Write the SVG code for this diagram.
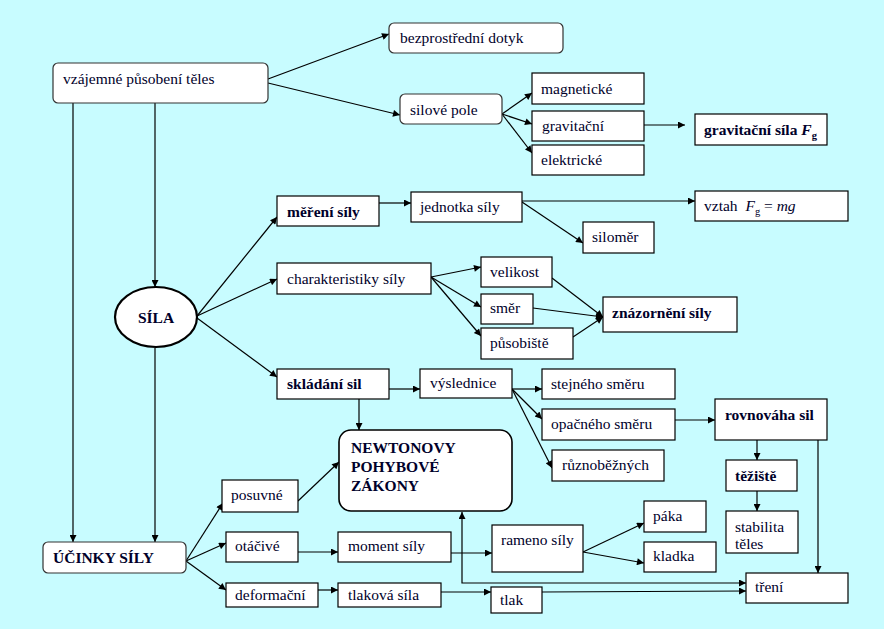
<svg xmlns="http://www.w3.org/2000/svg" width="884" height="629" viewBox="0 0 884 629">
<style>
.bg{fill:#C8FCFF}
.n{fill:#fff;stroke:#000;stroke-width:1.2}
.nr{fill:#fff;stroke:#333;stroke-width:1.2}
.t{font-family:"Liberation Serif","Times New Roman",serif;font-size:15.5px;fill:#00002a}
.b{font-weight:bold}
.i{font-style:italic}
.c path{fill:none;stroke:#000;stroke-width:1.2}
</style>
<defs>
<marker id="a" viewBox="0 0 10 10" refX="10" refY="5" markerWidth="9" markerHeight="7" orient="auto-start-reverse" markerUnits="userSpaceOnUse"><path d="M0,0 L10,5 L0,10 z" fill="#000"/></marker>
</defs>
<rect class="bg" x="0" y="0" width="884" height="629"/>

<g class="c">
<path d="M268,79 L389,34" marker-end="url(#a)"/>
<path d="M268,83 L400,115" marker-end="url(#a)"/>
<path d="M502,114 L532,93" marker-end="url(#a)"/>
<path d="M502,114 L532,124" marker-end="url(#a)"/>
<path d="M502,114 L532,153" marker-end="url(#a)"/>
<path d="M644,125 L685,125" marker-end="url(#a)"/>
<path d="M155,103 L155,287" marker-end="url(#a)"/>
<path d="M73,103 L73,542" marker-end="url(#a)"/>
<path d="M155,348 L155,542" marker-end="url(#a)"/>
<path d="M197,316 L277,217" marker-end="url(#a)"/>
<path d="M197,316 L277,279" marker-end="url(#a)"/>
<path d="M197,318 L277,377" marker-end="url(#a)"/>
<path d="M379,203 L411,203" marker-end="url(#a)"/>
<path d="M522,201 L695,201" marker-end="url(#a)"/>
<path d="M522,202 L583,243" marker-end="url(#a)"/>
<path d="M431,277 L481,267" marker-end="url(#a)"/>
<path d="M431,277 L481,307" marker-end="url(#a)"/>
<path d="M431,277 L481,336" marker-end="url(#a)"/>
<path d="M552,278 L603,317" marker-end="url(#a)"/>
<path d="M533,308 L603,317" marker-end="url(#a)"/>
<path d="M573,337 L603,317" marker-end="url(#a)"/>
<path d="M389,389 L420,389" marker-end="url(#a)"/>
<path d="M512,389 L542,389" marker-end="url(#a)"/>
<path d="M512,389 L542,419" marker-end="url(#a)"/>
<path d="M512,389 L552,468" marker-end="url(#a)"/>
<path d="M359,399 L359,430" marker-end="url(#a)"/>
<path d="M675,420 L715,420" marker-end="url(#a)"/>
<path d="M757,440 L757,460" marker-end="url(#a)"/>
<path d="M757,491 L757,511" marker-end="url(#a)"/>
<path d="M818,440 L818,573" marker-end="url(#a)"/>
<path d="M186,561 L223,503" marker-end="url(#a)"/>
<path d="M186,561 L226,543" marker-end="url(#a)"/>
<path d="M186,561 L226,590" marker-end="url(#a)"/>
<path d="M298,501 L339,462" marker-end="url(#a)"/>
<path d="M298,552 L338,552" marker-end="url(#a)"/>
<path d="M318,590 L338,590" marker-end="url(#a)"/>
<path d="M451,553 L492,553" marker-end="url(#a)"/>
<path d="M583,552 L644,523" marker-end="url(#a)"/>
<path d="M583,552 L644,563" marker-end="url(#a)"/>
<path d="M441,592 L491,592" marker-end="url(#a)"/>
<path d="M542,592 L746,591" marker-end="url(#a)"/>
<path d="M462,512 L462,583 L746,583" marker-start="url(#a)" marker-end="url(#a)"/>
</g>

<g id="vzajemne"><rect class="nr" x="53" y="63" width="215" height="40" rx="5"/><text class="t" x="63" y="84">vzájemné působení těles</text></g>
<g id="bezprostredni"><rect class="nr" x="389" y="23" width="174" height="30" rx="5"/><text class="t" x="400" y="43">bezprostřední dotyk</text></g>
<g id="silove-pole"><rect class="nr" x="400" y="94" width="102" height="30" rx="5"/><text class="t" x="410" y="115">silové pole</text></g>
<g id="magneticke"><rect class="n" x="532" y="73" width="112" height="31"/><text class="t" x="541" y="94">magnetické</text></g>
<g id="gravitacni"><rect class="n" x="532" y="111" width="112" height="30"/><text class="t" x="542" y="131">gravitační</text></g>
<g id="elektricke"><rect class="n" x="532" y="145" width="112" height="30"/><text class="t" x="541" y="165">elektrické</text></g>
<g id="gravitacni-sila"><rect class="n" x="695" y="114" width="132" height="31"/><text class="t b" x="704" y="135">gravitační síla <tspan class="i">F</tspan><tspan font-size="10.5px" dy="4">g</tspan></text></g>

<g id="sila"><ellipse cx="156" cy="317" rx="41" ry="30" fill="#fff" stroke="#000" stroke-width="2.2"/><text class="t b" x="156" y="323" text-anchor="middle" font-size="18.5px">SÍLA</text></g>

<g id="mereni"><rect class="n" x="277" y="196" width="102" height="30"/><text class="t b" x="287" y="217">měření síly</text></g>
<g id="jednotka"><rect class="n" x="411" y="192" width="111" height="30"/><text class="t" x="420" y="212">jednotka síly</text></g>
<g id="vztah"><rect class="n" x="695" y="191" width="153" height="30"/><text class="t" x="704" y="211">vztah <tspan class="i" dx="4">F</tspan><tspan font-size="10.5px" dy="4">g</tspan><tspan dy="-4"> = </tspan><tspan class="i">mg</tspan></text></g>
<g id="silomer"><rect class="n" x="583" y="222" width="71" height="31"/><text class="t" x="592" y="242">siloměr</text></g>

<g id="charakteristiky"><rect class="n" x="277" y="263" width="154" height="31"/><text class="t" x="287" y="284">charakteristiky síly</text></g>
<g id="velikost"><rect class="n" x="481" y="257" width="71" height="30"/><text class="t" x="490" y="277">velikost</text></g>
<g id="smer"><rect class="n" x="481" y="294" width="52" height="30"/><text class="t" x="490" y="313">směr</text></g>
<g id="pusobiste"><rect class="n" x="481" y="328" width="92" height="31"/><text class="t" x="490" y="348">působiště</text></g>
<g id="znazorneni"><rect class="n" x="603" y="297" width="134" height="35"/><text class="t b" x="612" y="318">znázornění síly</text></g>

<g id="skladani"><rect class="n" x="277" y="369" width="112" height="30"/><text class="t b" x="287" y="389">skládání sil</text></g>
<g id="vyslednice"><rect class="n" x="420" y="369" width="92" height="29"/><text class="t" x="430" y="388">výslednice</text></g>
<g id="stejneho"><rect class="n" x="542" y="369" width="133" height="30"/><text class="t" x="551" y="389">stejného směru</text></g>
<g id="opacneho"><rect class="n" x="542" y="409" width="133" height="31"/><text class="t" x="551" y="429">opačného směru</text></g>
<g id="ruznobeznych"><rect class="n" x="552" y="450" width="112" height="31"/><text class="t" x="562" y="470">různoběžných</text></g>

<g id="newton"><rect x="339" y="430" width="173" height="81" rx="12" fill="#fff" stroke="#000" stroke-width="1.6"/><text class="t b" x="351" y="453">NEWTONOVY</text><text class="t b" x="351" y="472">POHYBOVÉ</text><text class="t b" x="351" y="491">ZÁKONY</text></g>

<g id="rovnovaha"><rect class="n" x="715" y="399" width="112" height="41"/><text class="t b" x="725" y="420">rovnováha sil</text></g>
<g id="teziste"><rect class="n" x="726" y="460" width="71" height="31"/><text class="t b" x="735" y="481">těžiště</text></g>
<g id="stabilita"><rect class="n" x="726" y="511" width="72" height="42"/><text class="t" x="735" y="532">stabilita</text><text class="t" x="735" y="549">těles</text></g>

<g id="ucinky"><rect class="nr" x="43" y="542" width="143" height="31" rx="5"/><text class="t b" x="53" y="563">ÚČINKY SÍLY</text></g>
<g id="posuvne"><rect class="n" x="222" y="480" width="76" height="32"/><text class="t" x="231" y="500">posuvné</text></g>
<g id="otacive"><rect class="n" x="226" y="532" width="72" height="30"/><text class="t" x="235" y="551">otáčivé</text></g>
<g id="deformacni"><rect class="n" x="226" y="583" width="92" height="24"/><text class="t" x="235" y="600">deformační</text></g>
<g id="moment"><rect class="n" x="338" y="532" width="113" height="30"/><text class="t" x="348" y="551">moment síly</text></g>
<g id="tlakova"><rect class="n" x="338" y="583" width="103" height="24"/><text class="t" x="348" y="600">tlaková síla</text></g>
<g id="rameno"><rect class="n" x="492" y="525" width="91" height="47"/><text class="t" x="501" y="545">rameno síly</text></g>
<g id="paka"><rect class="n" x="644" y="501" width="62" height="31"/><text class="t" x="653" y="521">páka</text></g>
<g id="kladka"><rect class="n" x="644" y="542" width="72" height="30"/><text class="t" x="653" y="561">kladka</text></g>
<g id="tlak"><rect class="n" x="491" y="587" width="51" height="26"/><text class="t" x="500" y="605">tlak</text></g>
<g id="treni"><rect class="n" x="746" y="573" width="102" height="30"/><text class="t" x="755" y="592">tření</text></g>
</svg>
